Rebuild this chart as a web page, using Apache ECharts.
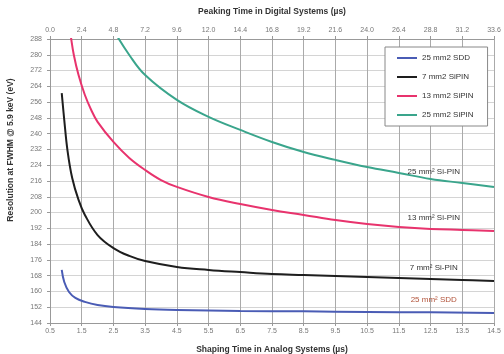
<!DOCTYPE html>
<html><head><meta charset="utf-8">
<script src="https://cdn.jsdelivr.net/npm/echarts@6/dist/echarts.min.js"></script>
<style>html,body{margin:0;padding:0;background:#fff}#c{width:504px;height:354px}</style>
</head><body><div id="c"></div>
<script>
// Tick labels
const shapingTicks = [0.5,1.5,2.5,3.5,4.5,5.5,6.5,7.5,8.5,9.5,10.5,11.5,12.5,13.5,14.5];
const resolutionMin = 144, resolutionMax = 288, resolutionStep = 8;
const peakingMin = 0, peakingMax = 33.6, peakingStep = 2.4;

// Series: [shaping time (us), FWHM (eV)]
const sdd25 = [[0.87,170.9],[0.95,164.8],[1.1,159.7],[1.3,156.7],[1.6,154.7],[2.0,153.1],[2.5,152.1],[3.5,151.1],[4.5,150.6],[6.5,150.1],[8.5,149.9],[10.5,149.6],[12.5,149.4],[14.5,149.1]];
const sipin7 = [[0.87,260.6],[0.95,246.9],[1.05,231.7],[1.2,217.5],[1.4,206.4],[1.6,198.8],[2.0,188.6],[2.5,182.0],[3.0,178.0],[3.5,175.4],[4.5,172.4],[5.5,170.9],[6.5,169.8],[7.5,168.8],[8.5,168.3],[9.5,167.8],[10.5,167.3],[11.5,166.8],[12.5,166.3],[13.5,165.8],[14.5,165.3]];
const sipin13 = [[1.1,295],[1.15,290],[1.25,280],[1.4,269.7],[1.6,259.6],[1.8,252],[2.0,246],[2.5,235.8],[3.0,227.7],[3.5,221.6],[4.0,216.5],[4.5,213],[5.5,207.9],[6.5,204.3],[7.5,201.3],[8.5,198.8],[9.5,196.2],[10.5,194.2],[11.5,192.7],[12.5,191.7],[13.5,191.2],[14.5,190.7]];
const sipin25 = [[2.45,295],[2.5,292.6],[3.0,279.9],[3.5,269.7],[4.5,257.1],[5.5,248.5],[6.5,241.9],[7.5,235.8],[8.5,230.7],[9.5,226.7],[10.5,223.1],[11.5,220.1],[12.5,217.0],[13.5,215.0],[14.5,213.0]];

const seriesNames = ['25 mm2 SDD','7 mm2 SiPIN','13 mm2 SiPIN','25 mm2 SiPIN'];
const annotations = ['25 mm² SDD','7 mm² Si-PIN','13 mm² Si-PIN','25 mm² Si-PIN'];
const annotationPos = [[12.6,156],[12.6,172],[12.6,197.5],[12.6,220.8]];
const colors = ['#4a5cb5','#1e1e1e','#e8336d','#3aa58c'];

const font = 'Liberation Sans, Arial, sans-serif';
const chart = echarts.init(document.getElementById('c'));
const dataSets = [sdd25, sipin7, sipin13, sipin25];

chart.setOption({
  animation: false,
  textStyle: {fontFamily: font},
  grid: {left: 50, right: 10, top: 39, bottom: 31, outerBoundsMode: 'none', containLabel: false},
  legend: {
    left: 385, top: 47, orient: 'vertical', itemGap: 11,
    itemWidth: 20, itemHeight: 2, padding: [7, 14, 7, 12],
    backgroundColor: '#fff', borderColor: '#888', borderWidth: 1,
    textStyle: {fontSize: 8, color: '#333'},
    data: seriesNames.map(n => ({name: n, icon: 'rect'}))
  },
  xAxis: [{
    type: 'value', position: 'bottom', min: shapingTicks[0], max: shapingTicks[shapingTicks.length-1],
    name: 'Shaping Time in Analog Systems (µs)', nameLocation: 'middle', nameGap: 22,
    nameTextStyle: {fontSize: 8.5, color: '#333', fontWeight: 'bold'},
    axisLine: {show: true, lineStyle: {color: '#999'}},
    axisTick: {show: true, customValues: shapingTicks, length: 3, lineStyle: {color: '#999'}},
    axisLabel: {customValues: shapingTicks, fontSize: 7, color: '#777', margin: 5, formatter: v => v.toFixed(1)},
    splitLine: {show: true, lineStyle: {color: '#aaa', width: 1}}
  }, {
    type: 'value', position: 'top', min: peakingMin, max: peakingMax, interval: peakingStep,
    name: 'Peaking Time in Digital Systems (µs)', nameLocation: 'middle', nameGap: 23,
    nameTextStyle: {fontSize: 8.5, color: '#333', fontWeight: 'bold'},
    axisLine: {show: true, lineStyle: {color: '#999'}},
    axisTick: {show: true, length: 3, lineStyle: {color: '#999'}},
    axisLabel: {fontSize: 7, color: '#777', margin: 5, formatter: v => v.toFixed(1)},
    splitLine: {show: false}
  }],
  yAxis: {
    type: 'value', min: resolutionMin, max: resolutionMax, interval: resolutionStep,
    name: 'Resolution at FWHM @ 5.9 keV (eV)', nameLocation: 'middle', nameGap: 35,
    nameTextStyle: {fontSize: 8.5, color: '#333', fontWeight: 'bold', padding: [0,0,0,62]},
    axisLine: {show: true, lineStyle: {color: '#999'}},
    axisTick: {show: true, length: 3, lineStyle: {color: '#999'}},
    axisLabel: {fontSize: 7, color: '#777', margin: 8},
    splitLine: {show: true, lineStyle: {color: '#d4d4d4', width: 1}}
  },
  series: dataSets.map((d, i) => ({
    name: seriesNames[i], type: 'line', data: d, smooth: 0.4, showSymbol: false,
    clip: true, color: colors[i], lineStyle: {width: 2, color: colors[i]},
    markPoint: {
      symbol: 'rect', symbolSize: 0, silent: true,
      label: {show: true, formatter: annotations[i], fontSize: 8,
        color: i === 0 ? '#b2533a' : '#333', backgroundColor: 'transparent'},
      data: [{coord: annotationPos[i]}]
    }
  }))
});
</script></body></html>
